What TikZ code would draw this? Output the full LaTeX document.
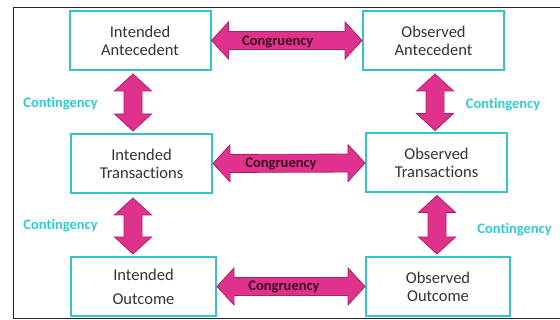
\documentclass[tikz,border=0pt]{standalone}
\usepackage{fontspec}
\setmainfont[Ligatures=NoCommon]{Carlito}
\usetikzlibrary{calc}
\definecolor{boxcyan}{HTML}{33C6C8}
\definecolor{labcyan}{HTML}{2FCBCF}
\definecolor{arrowpink}{HTML}{E0328C}
\definecolor{arrowedge}{HTML}{A8226A}
\definecolor{congtext}{HTML}{3A0A20}
\newcommand{\headlen}{17pt}
\newcommand{\headwid}{18.5pt}
\newcommand{\shaftwid}{9pt}
% fat two-headed arrow from #1 to #2
\newcommand{\twoway}[2]{%
\filldraw[bigarrow] (#1)
 -- ($(#1)!\headlen!(#2)!\headwid!90:(#2)$)
 -- ($(#1)!\headlen!(#2)!\shaftwid!90:(#2)$)
 -- ($(#2)!\headlen!(#1)!\shaftwid!-90:(#1)$)
 -- ($(#2)!\headlen!(#1)!\headwid!-90:(#1)$)
 -- (#2)
 -- ($(#2)!\headlen!(#1)!\headwid!90:(#1)$)
 -- ($(#2)!\headlen!(#1)!\shaftwid!90:(#1)$)
 -- ($(#1)!\headlen!(#2)!\shaftwid!-90:(#2)$)
 -- ($(#1)!\headlen!(#2)!\headwid!-90:(#2)$)
 -- cycle;}
\tikzset{
stage/.style={draw=boxcyan, line width=2pt, minimum width=141, minimum height=59,
 inner sep=0pt, align=center, text=black!80, font=\fontsize{16.5}{18}\selectfont},
contlabel/.style={text=labcyan, font=\bfseries\fontsize{14.5}{16}\selectfont},
conglabel/.style={text=congtext, font=\bfseries\fontsize{14.5}{16}\selectfont},
bigarrow/.style={fill=arrowpink, draw=arrowedge, line width=0.8pt, line join=miter}
}
\begin{document}
\begin{tikzpicture}[x=1pt,y=-1pt]
\useasboundingbox (0,0) rectangle (560,320);
\draw[line width=1.2pt, black!85] (560,7.5) -- (13.5,7.5) -- (13.5,318.8) -- (560,318.8);
% boxes
\node[stage] (ia) at (140,40.5) {Intended\\Antecedent};
\node[stage] (oa) at (433.5,40.5) {Observed\\Antecedent};
\node[stage] (it) at (141.5,163.5) {Intended\\Transactions};
\node[stage] (ot) at (436.5,163) {Observed\\Transactions};
\node[stage, minimum width=145] (io) at (143.5,286.5) {Intended\\[6pt]Outcome};
\node[stage, minimum width=144] (oo) at (438,286.5) {Observed\\Outcome};
% ends of the vertical arrows
\coordinate (ia-s) at ($(ia.south)+(-7,3)$);
\coordinate (it-n) at ($(it.north)+(-8.5,-2)$);
\coordinate (it-s) at ($(it.south)+(-8.5,4)$);
\coordinate (io-n) at ($(io.north)+(-10.5,-2)$);
\coordinate (oa-s) at ($(oa.south)+(1.5,3)$);
\coordinate (ot-n) at ($(ot.north)+(-1.5,-2)$);
\coordinate (ot-s) at ($(ot.south)+(0.5,2)$);
\coordinate (oo-n) at ($(oo.north)+(-1,-2)$);
% arrows
\twoway{ia.east}{oa.west}
\twoway{it.east}{ot.west}
\twoway{io.east}{oo.west}
\twoway{ia-s}{it-n}
\twoway{it-s}{io-n}
\twoway{oa-s}{ot-n}
\twoway{ot-s}{oo-n}
% labels
\node[conglabel] (cg1) at ($(ia.east)!0.5!(oa.west)+(-9,1)$) {Congruency};
\node[conglabel] (cg2) at ($(it.east)!0.5!(ot.west)+(-8,1)$) {Congruency};
\node[conglabel] (cg3) at ($(io.east)!0.5!(oo.west)+(-7,0)$) {Congruency};
\node[contlabel] (ct1) at (60.5,104) {Contingency};
\node[contlabel] (ct2) at (503,105) {Contingency};
\node[contlabel] (ct3) at (60.5,226) {Contingency};
\node[contlabel] (ct4) at (514.5,230) {Contingency};
\end{tikzpicture}
\end{document}
